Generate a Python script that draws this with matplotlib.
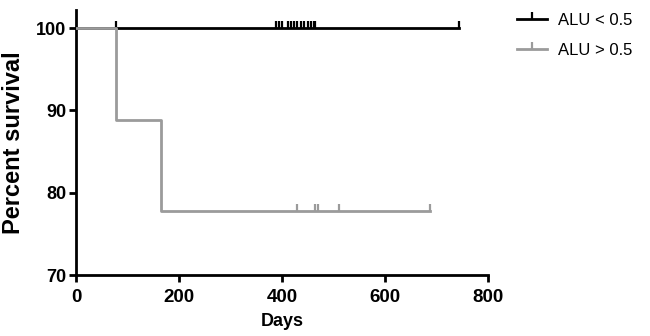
import numpy as np
import matplotlib
matplotlib.use("Agg")
import matplotlib.pyplot as plt
from matplotlib.markers import TICKUP

plt.rcParams['font.family'] = ['Liberation Sans', 'DejaVu Sans']

# Kaplan-Meier steps
low_times = [0, 744]
low_surv = [100, 100]
low_censor = [77, 388, 394, 400, 412, 417, 423, 429, 437, 443, 450, 456, 462, 464, 744]

high_times = [0, 77, 165, 687]
high_surv = [100, 88.89, 77.78, 77.78]
high_censor = [429, 464, 470, 511, 687]

labels = ["ALU < 0.5", "ALU > 0.5"]
colors = ["#000000", "#9b9b9b"]


def surv_at(times, surv, t):
    idx = np.searchsorted(times, t, side="right") - 1
    return np.array(surv)[idx]


fig = plt.figure(figsize=(6.5, 3.36), dpi=100)
ax = fig.add_axes([0.117, 0.1815, 0.634, 0.7885])

series = [(low_times, low_surv, low_censor), (high_times, high_surv, high_censor)]
for i, (t, s, c) in enumerate(series):
    ax.plot(t, s, drawstyle="steps-post", color=colors[i], lw=2, zorder=2 + i)
    ax.plot(c, surv_at(t, s, c), ls="none", marker=TICKUP, ms=5, mew=1.6,
            color=colors[i], zorder=2 + i)

handles = [plt.Line2D([], [], color=colors[i], lw=2, marker=TICKUP, ms=5, mew=1.6)
           for i in range(2)]
fig.legend(handles, labels, loc="upper left", bbox_to_anchor=(0.773, 1.006),
           frameon=False, fontsize=12, handlelength=1.75, handletextpad=0.7,
           labelspacing=0.9)

ax.set_xlim(0, 800)
ax.set_ylim(70, 102.2)
ax.set_xticks([0, 200, 400, 600, 800])
ax.set_yticks([70, 80, 90, 100])
ax.spines["top"].set_visible(False)
ax.spines["right"].set_visible(False)
ax.spines["left"].set_linewidth(2)
ax.spines["bottom"].set_linewidth(2)
ax.spines["left"].set_bounds(70, 102.2)
ax.tick_params(direction="out", length=5, width=2)
ax.tick_params(axis="x", labelsize=13.5, pad=5)
ax.tick_params(axis="y", labelsize=13, pad=2)
for lbl in ax.get_xticklabels() + ax.get_yticklabels():
    lbl.set_fontweight("bold")

ax.set_xlabel("Days", fontsize=13, fontweight="bold", labelpad=5)
ax.set_ylabel("Percent survival", fontsize=17, fontweight="bold", labelpad=8)

fig.savefig("out.png", dpi=100)
